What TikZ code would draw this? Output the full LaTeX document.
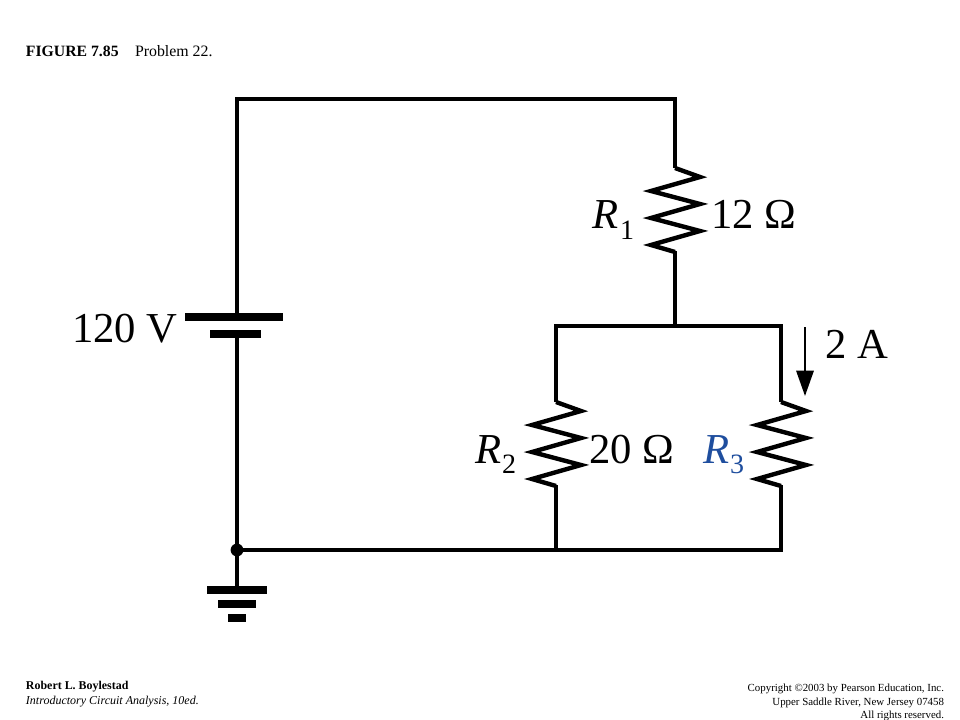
\documentclass[tikz,border=0pt]{standalone}
\usepackage{fontspec}
\setmainfont{Liberation Serif}
\usetikzlibrary{arrows.meta}
\definecolor{rblue}{HTML}{1F4E9E}
\newcommand{\bigtxt}{\fontsize{32}{36}\selectfont}
\newcommand{\subtxt}{\fontsize{21}{24}\selectfont}
\newcommand{\zigpath}{-- ++(25,9) -- ++(-49,14) -- ++(49,13) -- ++(-49,14) -- ++(49,13) -- ++(-49,14) -- ++(24,7)}
\tikzset{
  wire/.style={line width=2.3pt,line cap=butt,line join=miter,black},
  zig/.style={line width=3.3pt,line join=miter,miter limit=10,black},
  plate/.style={fill=black,draw=none,inner sep=0pt,outer sep=0pt,minimum height=#1},
  plate/.default=5.6pt,
  lbl/.style={anchor=base west,inner sep=0pt,outer sep=0pt,text=black},
  rlbl/.style={anchor=base east,inner sep=0pt,outer sep=0pt,text=black},
  flow/.style={line width=1.6pt,-{Triangle[length=19pt,width=13pt]}}
}
\begin{document}
\begin{tikzpicture}[x=0.75pt,y=-0.75pt]
\useasboundingbox[fill=white] (0,0) rectangle (960,720);
% named points
\coordinate (tl) at (237,99);
\coordinate (tr) at (675,99);
\coordinate (r1a) at (675,168);
\coordinate (r1b) at (675,251);
\coordinate (jt) at (675,326);
\coordinate (pl) at (556,326);
\coordinate (pr) at (781,326);
\coordinate (r2a) at (556,402);
\coordinate (r2b) at (556,485);
\coordinate (r3a) at (781,402);
\coordinate (r3b) at (781,485);
\coordinate (bl) at (556,550);
\coordinate (br) at (781,550);
\coordinate (arra) at (805,327);
\coordinate (arrb) at (805,396);
% plates
\node[plate,minimum width=73.5pt] (batl) at (234,317) {};
\node[plate,minimum width=38.2pt] (bats) at (235.5,334) {};
\node[circle,fill=black,inner sep=0pt,minimum size=9.6pt] (gnd) at (237,550) {};
\node[plate=6pt,minimum width=45pt] (g1) at (237,590) {};
\node[plate=6pt,minimum width=28.5pt] (g2) at (237,604) {};
\node[plate=6pt,minimum width=14.2pt] (g3) at (237,618) {};
% wires
\draw[wire] (batl.center -| tl) -- (tl) -- (tr) -- (r1a);
\draw[wire] (bats.center -| gnd) -- (gnd.center) -- (br) -- (r3b);
\draw[wire] (gnd.center) -- (g1.center);
\draw[wire] (r1b) -- (jt);
\draw[wire] (r3a) -- (pr) -- (pl) -- (r2a);
\draw[wire] (r2b) -- (bl);
\draw[zig] (r1a) \zigpath;
\draw[zig] (r2a) \zigpath;
\draw[zig] (r3a) \zigpath;
\draw[flow] (arra) -- (arrb);
% labels
\node[lbl] (cap1) at (26,57) {\fontsize{11.8}{14}\selectfont\bfseries FIGURE 7.85};
\node[lbl] (cap2) at (135,57) {\fontsize{11.9}{14}\selectfont Problem 22.};
\node[lbl] (v) at (72,342) {\bigtxt 120 V};
\node[lbl] (r1l) at (592,229) {\bigtxt\itshape R};
\node[lbl] (r1s) at (620,240) {\subtxt 1};
\node[lbl] (r1v) at (711,229) {\bigtxt 12 Ω};
\node[lbl] (r2l) at (475,463) {\bigtxt\itshape R};
\node[lbl] (r2s) at (502,473) {\subtxt 2};
\node[lbl] (r2v) at (589,463) {\bigtxt 20 Ω};
\node[lbl,text=rblue] (r3l) at (703,463) {\bigtxt\itshape R};
\node[lbl,text=rblue] (r3s) at (730,473) {\subtxt 3};
\node[lbl] (cur) at (825,358) {\bigtxt 2 A};
\node[lbl] (au) at (26,689) {\fontsize{8.95}{10}\selectfont\bfseries Robert L. Boylestad};
\node[lbl] (bk) at (26,704) {\fontsize{9}{10}\selectfont\itshape Introductory Circuit Analysis, 10ed.};
\node[rlbl] (c1) at (944,691) {\fontsize{8.15}{10}\selectfont Copyright ©2003 by Pearson Education, Inc.};
\node[rlbl] (c2) at (944,705) {\fontsize{8.15}{10}\selectfont Upper Saddle River, New Jersey 07458};
\node[rlbl] (c3) at (944,718) {\fontsize{8.15}{10}\selectfont All rights reserved.};
\end{tikzpicture}
\end{document}
